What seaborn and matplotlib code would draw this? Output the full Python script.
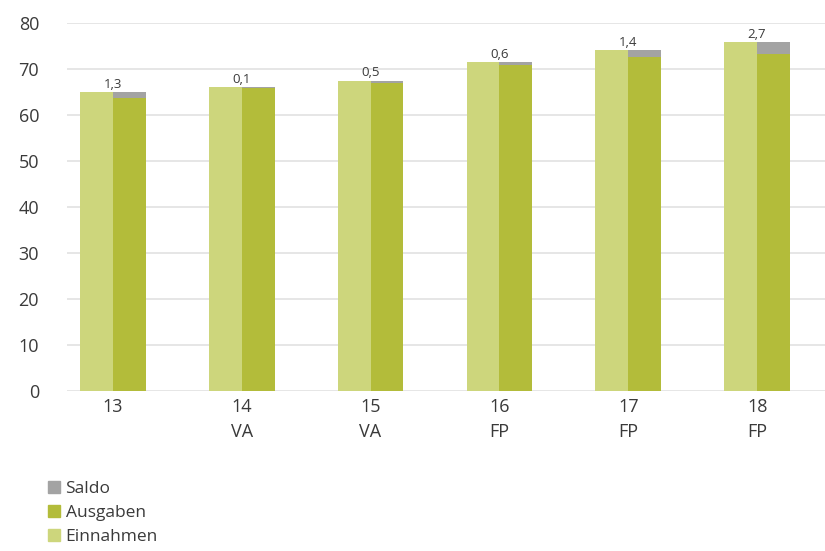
import matplotlib
matplotlib.use("Agg")
import matplotlib.pyplot as plt
from matplotlib.patches import Patch
import seaborn as sns
import pandas as pd

jahre = ["13", "14\nVA", "15\nVA", "16\nFP", "17\nFP", "18\nFP"]
einnahmen = [65.0, 66.1, 67.5, 71.5, 74.1, 75.9]
ausgaben = [63.7, 66.0, 67.0, 70.9, 72.7, 73.2]
saldo = [1.3, 0.1, 0.5, 0.6, 1.4, 2.7]
saldo_labels = ["1,3", "0,1", "0,5", "0,6", "1,4", "2,7"]

c_ein = "#cdd67c"
c_aus = "#b3bc3a"
c_sal = "#a3a3a3"
txt = "#3a3a3a"

sns.set_theme(style="white")
plt.rcParams["font.family"] = ["Open Sans", "DejaVu Sans"]

fig = plt.figure(figsize=(8.25, 5.51), dpi=100)
ax = fig.add_axes([0.081, 0.29, 0.919, 0.668])

# totals (Ausgaben + Saldo) in grey behind Ausgaben
tot = [a + s for a, s in zip(ausgaben, saldo)]
df1 = pd.DataFrame({
    "Jahr": jahre * 2,
    "Wert": einnahmen + tot,
    "Serie": ["Einnahmen"] * 6 + ["Ausgaben"] * 6,
})
df2 = pd.DataFrame({
    "Jahr": jahre * 2,
    "Wert": einnahmen + ausgaben,
    "Serie": ["Einnahmen"] * 6 + ["Ausgaben"] * 6,
})
sns.barplot(data=df1, x="Jahr", y="Wert", hue="Serie",
            hue_order=["Einnahmen", "Ausgaben"],
            palette=[c_ein, c_sal], width=0.51, gap=0,
            linewidth=0, saturation=1, ax=ax, legend=False, zorder=2)
sns.barplot(data=df2, x="Jahr", y="Wert", hue="Serie",
            hue_order=["Einnahmen", "Ausgaben"],
            palette=[c_ein, c_aus], width=0.51, gap=0,
            linewidth=0, saturation=1, ax=ax, legend=False, zorder=3)

for i, (e, lab) in enumerate(zip(einnahmen, saldo_labels)):
    ax.text(i, e + 0.3, lab, ha="center", va="bottom", fontsize=9.5, color=txt, zorder=4)

ax.set_ylim(0, 80)
ax.set_xlim(-0.357, 5.527)
ax.set_yticks(range(0, 81, 10))
ax.yaxis.grid(True, color="#e2e2e2", linewidth=1.2, zorder=0)
ax.set_axisbelow(True)
for sp in ax.spines.values():
    sp.set_visible(False)
ax.set_xlabel("")
ax.set_ylabel("")
ax.tick_params(axis="y", labelsize=13, labelcolor=txt, pad=20, length=0)
ax.tick_params(axis="x", labelsize=13, labelcolor=txt, pad=5, length=0)
for t in ax.get_xticklabels():
    t.set_linespacing(1.5)
    t.set_verticalalignment("top")

handles = [Patch(color=c_sal, label="Saldo"),
           Patch(color=c_aus, label="Ausgaben"),
           Patch(color=c_ein, label="Einnahmen")]
fig.legend(handles=handles, loc="upper left",
           bbox_to_anchor=(0.05, 1 - 474 / 551),
           bbox_transform=fig.transFigure, frameon=False, fontsize=12.5,
           handlelength=0.7, handleheight=0.7, handletextpad=0.3,
           labelspacing=0.45, borderaxespad=0, labelcolor=txt)

fig.savefig("out.png", dpi=100)
